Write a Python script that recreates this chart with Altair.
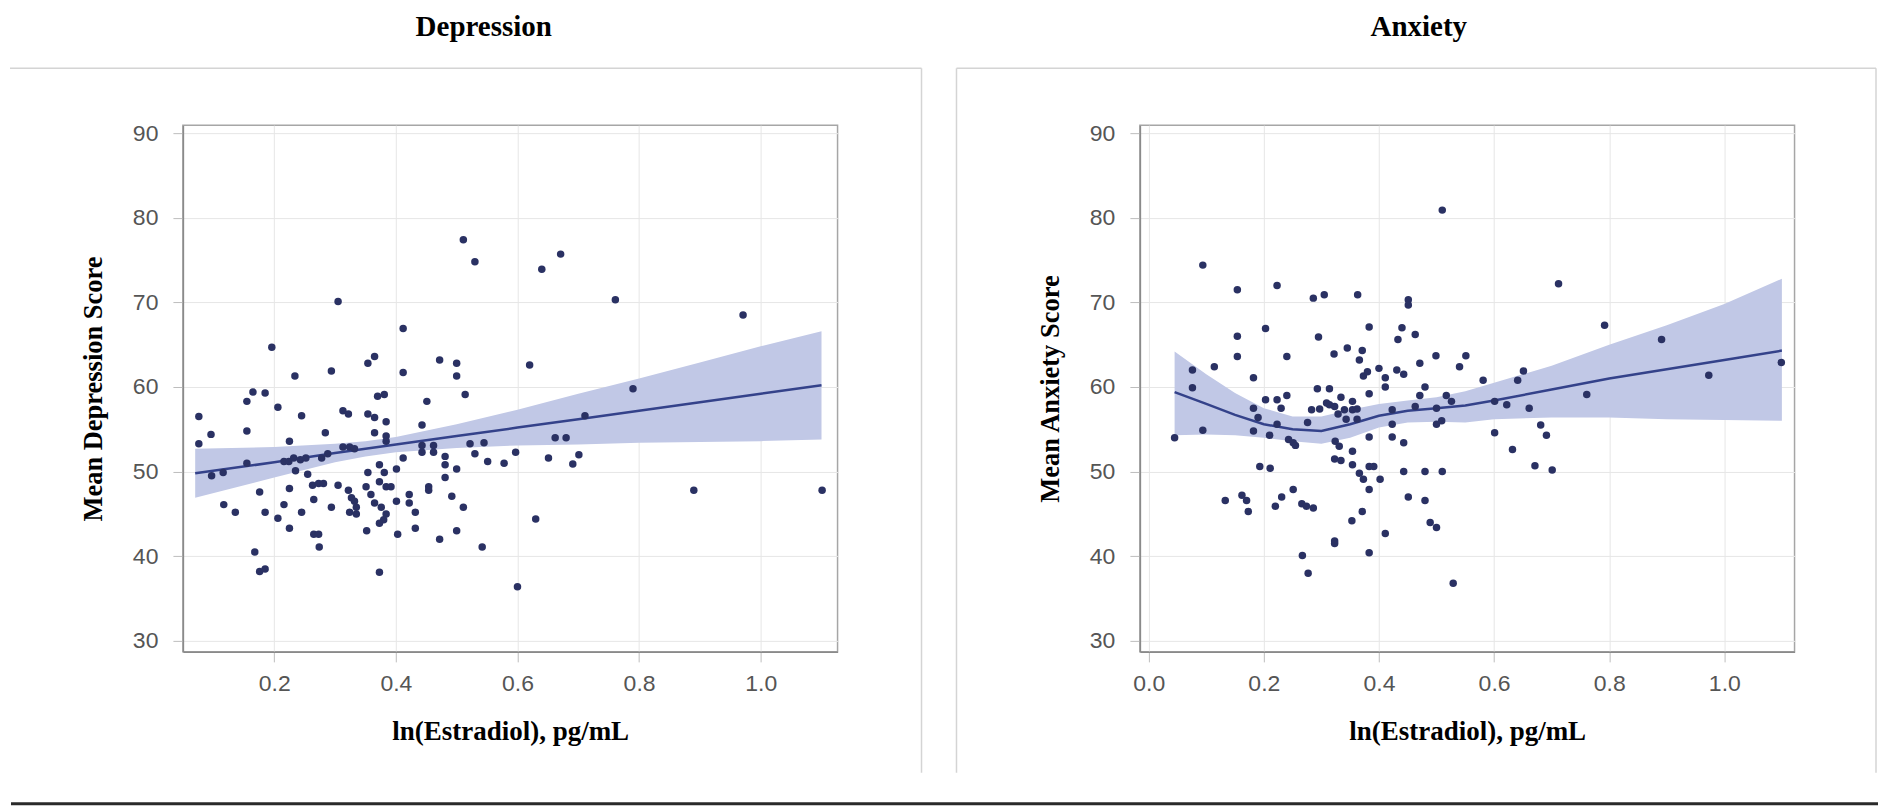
import altair as alt
import pandas as pd

# ---------------- Depression panel data ----------------
dep_x = [0.076, 0.076, 0.096, 0.097, 0.116, 0.117, 0.136, 0.155, 0.155, 0.155,
         0.165, 0.185, 0.176, 0.185, 0.168, 0.176, 0.185, 0.196, 0.206, 0.206,
         0.225, 0.225, 0.225, 0.234, 0.245, 0.216, 0.224, 0.232, 0.235, 0.243,
         0.252, 0.216, 0.245, 0.255, 0.263, 0.265, 0.265, 0.273, 0.274, 0.273,
         0.281, 0.284, 0.278, 0.288, 0.294, 0.294, 0.305, 0.305, 0.313, 0.322,
         0.313, 0.324, 0.332, 0.322, 0.327, 0.332, 0.324, 0.335, 0.335, 0.354,
         0.365, 0.354, 0.365, 0.365, 0.354, 0.351, 0.359, 0.365, 0.352, 0.373,
         0.370, 0.381, 0.384, 0.384, 0.384, 0.373, 0.381, 0.373, 0.384, 0.376,
         0.384, 0.380, 0.373, 0.392, 0.401, 0.401, 0.403, 0.412, 0.412, 0.412,
         0.422, 0.422, 0.432, 0.432, 0.443, 0.443, 0.443, 0.451, 0.454, 0.454,
         0.462, 0.462, 0.472, 0.472, 0.481, 0.481, 0.481, 0.492, 0.500, 0.500,
         0.500, 0.500, 0.511, 0.511, 0.514, 0.530, 0.522, 0.530, 0.545, 0.542,
         0.551, 0.578, 0.597, 0.600, 0.671, 0.640, 0.761, 0.971, 0.620, 0.790,
         0.711, 0.662, 0.680, 0.651, 0.701, 0.691, 0.890, 1.101, 0.630]
dep_y = [56.5, 53.3, 54.4, 49.5, 49.9, 46.1, 45.2, 58.3, 54.8, 51.0,
         59.4, 59.3, 47.6, 45.2, 40.5, 38.2, 38.5, 64.7, 57.6, 44.5,
         53.6, 48.0, 43.3, 61.3, 56.6, 51.2, 51.2, 51.6, 50.1, 51.4,
         51.6, 46.1, 45.2, 49.7, 48.4, 46.7, 42.6, 42.6, 41.1, 48.6,
         48.6, 54.6, 51.6, 52.1, 61.9, 45.8, 70.1, 48.4, 57.2, 56.8,
         52.9, 52.9, 52.7, 47.8, 46.9, 46.5, 45.2, 45.0, 45.8, 62.8,
         63.6, 56.8, 56.4, 54.6, 49.9, 48.2, 47.3, 46.3, 43.0, 38.1,
         58.9, 59.1, 55.9, 54.2, 53.6, 50.8, 49.9, 48.8, 48.2, 45.8,
         45.0, 44.3, 43.9, 48.2, 50.3, 46.5, 42.6, 66.9, 61.7, 51.6,
         47.3, 46.3, 45.2, 43.3, 55.5, 53.1, 52.3, 58.3, 48.2, 47.8,
         53.1, 52.3, 63.2, 42.0, 51.8, 50.8, 49.3, 47.1, 62.8, 61.3,
         50.3, 43.0, 45.8, 77.4, 59.1, 74.8, 53.3, 52.1, 53.4, 41.1,
         51.2, 51.0, 52.3, 36.4, 75.7, 73.9, 70.3, 68.5, 62.6, 59.8,
         56.6, 54.0, 54.0, 51.6, 52.0, 50.9, 47.8, 47.8, 44.4]

dep_fit_x = [0.07, 0.2, 0.3, 0.35, 0.4, 0.5, 0.6, 0.7, 0.8, 0.9, 1.0, 1.1]
dep_fit_y = [49.8, 51.1, 52.2, 52.7, 53.2, 54.2, 55.2, 56.2, 57.2, 58.2, 59.2, 60.2]
dep_lo = [46.9, 49.3, 51.1, 51.8, 52.3, 52.8, 53.1, 53.2, 53.4, 53.5, 53.6, 53.8]
dep_hi = [52.7, 52.9, 53.3, 53.6, 54.1, 55.6, 57.3, 59.2, 61.0, 62.9, 64.8, 66.6]

# ---------------- Anxiety panel data ----------------
anx_x = [0.045, 0.076, 0.076, 0.094, 0.094, 0.114, 0.133, 0.154, 0.154, 0.154,
         0.162, 0.170, 0.173, 0.182, 0.182, 0.182, 0.190, 0.193, 0.203, 0.203,
         0.211, 0.210, 0.223, 0.223, 0.230, 0.223, 0.220, 0.231, 0.240, 0.240,
         0.243, 0.251, 0.255, 0.251, 0.266, 0.274, 0.286, 0.267, 0.277, 0.276,
         0.286, 0.295, 0.305, 0.293, 0.283, 0.297, 0.314, 0.309, 0.322, 0.314,
         0.323, 0.329, 0.334, 0.340, 0.345, 0.343, 0.354, 0.354, 0.324, 0.331,
         0.323, 0.334, 0.323, 0.323, 0.354, 0.354, 0.366, 0.373, 0.353, 0.363,
         0.362, 0.362, 0.366, 0.371, 0.371, 0.383, 0.373, 0.380, 0.383, 0.383,
         0.383, 0.391, 0.383, 0.383, 0.400, 0.402, 0.411, 0.411, 0.411, 0.423,
         0.423, 0.423, 0.431, 0.443, 0.443, 0.443, 0.440, 0.433, 0.451, 0.451,
         0.451, 0.463, 0.463, 0.471, 0.480, 0.471, 0.480, 0.480, 0.489, 0.500,
         0.499, 0.500, 0.500, 0.509, 0.510, 0.510, 0.517, 0.526, 0.529, 0.540,
         0.551, 0.581, 0.601, 0.622, 0.641, 0.651, 0.661, 0.601, 0.632, 0.681,
         0.691, 0.671, 0.701, 0.712, 0.792, 0.761, 0.891, 0.973, 1.099]
anx_y = [54.0, 62.0, 59.9, 74.4, 54.9, 62.4, 46.6, 71.5, 66.0, 63.6,
         47.2, 46.6, 45.3, 61.1, 57.5, 54.8, 56.4, 50.6, 66.9, 58.5,
         50.4, 54.3, 72.0, 58.5, 57.5, 55.6, 45.9, 47.0, 63.6, 59.0,
         53.8, 53.4, 53.1, 47.9, 46.2, 45.9, 45.7, 40.1, 38.0, 55.8,
         70.5, 65.9, 70.9, 59.8, 57.3, 57.4, 59.8, 58.1, 63.9, 57.9,
         57.7, 56.8, 58.8, 57.3, 64.6, 56.2, 58.3, 57.3, 53.6, 53.0,
         51.5, 51.3, 41.8, 41.5, 52.4, 50.8, 49.8, 49.1, 44.2, 70.9,
         57.4, 56.2, 63.2, 64.3, 45.3, 67.1, 61.3, 61.8, 59.2, 54.1,
         50.6, 50.6, 47.9, 40.4, 62.2, 49.1, 61.1, 60.0, 42.7, 57.3,
         55.6, 54.1, 62.0, 61.5, 53.4, 50.0, 67.0, 65.6, 70.3, 69.7,
         47.0, 66.2, 57.7, 62.8, 60.0, 59.0, 50.0, 46.6, 44.0, 43.4,
         63.7, 57.5, 55.6, 56.0, 50.0, 80.9, 59.0, 58.3, 36.8, 62.4,
         63.7, 60.8, 58.3, 57.9, 60.8, 61.9, 57.5, 54.6, 52.6, 55.5,
         54.3, 50.7, 50.2, 72.2, 67.3, 59.1, 65.6, 61.4, 62.9]

anx_fit_x = [0.045, 0.1, 0.15, 0.2, 0.25, 0.3, 0.35, 0.4, 0.45, 0.5, 0.55, 0.6,
             0.7, 0.8, 0.9, 1.0, 1.1]
anx_fit_y = [59.4, 58.0, 56.7, 55.6, 55.0, 54.8, 55.6, 56.6, 57.2, 57.5, 57.8, 58.4,
             59.7, 61.0, 62.1, 63.2, 64.3]
anx_lo = [54.3, 54.4, 54.3, 54.0, 53.6, 53.3, 54.0, 55.2, 55.8, 55.9, 55.8, 56.2,
          56.4, 56.4, 56.2, 56.1, 56.0]
anx_hi = [64.2, 61.5, 59.3, 57.5, 56.5, 56.5, 57.3, 58.0, 58.4, 58.8, 59.5, 60.5,
          62.5, 65.0, 67.3, 69.8, 72.8]

y_ticks = [30, 40, 50, 60, 70, 80, 90]
dep_x_ticks = [0.2, 0.4, 0.6, 0.8, 1.0]
anx_x_ticks = [0.0, 0.2, 0.4, 0.6, 0.8, 1.0]

POINT = "#2a3163"
LINE = "#34428a"
BAND = "#c1c8e6"
W, H = 655, 527
deco = pd.DataFrame({"d": [0]})


def rule(x, x2, y, y2, color, w, cap="butt"):
    return alt.Chart(deco).mark_rule(color=color, strokeWidth=w, strokeCap=cap).encode(
        x=alt.value(x), x2=alt.value(x2), y=alt.value(y), y2=alt.value(y2))


def panel(px, py, fx, fy, lo, hi, xdom, xticks, ytitle, title, title_x,
          extra_lines):
    xs = alt.Scale(domain=xdom, nice=False, zero=False)
    ys = alt.Scale(domain=[28.7, 90.94], nice=False, zero=False)
    xaxis = alt.Axis(values=xticks, format=".1f", title="ln(Estradiol), pg/mL",
                     titleY=88, titleBaseline="alphabetic", titleFontSize=27,
                     labelPadding=11, tickSize=10, labelFlush=False)
    yaxis = alt.Axis(values=y_ticks, title=ytitle, titleX=-89, titleY=H / 2,
                     titleAngle=270, titleAlign="center", titleBaseline="middle",
                     titleFontSize=26.5,
                     labelPadding=15, tickSize=10, labelFlush=False)
    pts = pd.DataFrame({"x": px, "y": py})
    fit = pd.DataFrame({"x": fx, "y": fy, "lo": lo, "hi": hi})
    band = alt.Chart(fit).mark_area(color=BAND, opacity=1).encode(
        x=alt.X("x:Q", scale=xs, axis=xaxis),
        y=alt.Y("lo:Q", scale=ys, axis=yaxis), y2="hi:Q")
    line = alt.Chart(fit).mark_line(color=LINE, strokeWidth=2.5).encode(
        x=alt.X("x:Q", scale=xs), y=alt.Y("y:Q", scale=ys))
    dots = alt.Chart(pts).mark_circle(size=56, color=POINT, opacity=1).encode(
        x=alt.X("x:Q", scale=xs), y=alt.Y("y:Q", scale=ys))
    ttl = alt.Chart(deco).mark_text(font="Liberation Serif", fontSize=29,
                                    fontWeight="bold", color="black",
                                    baseline="alphabetic", align="center").encode(
        x=alt.value(title_x), y=alt.value(-89), text=alt.value(title))
    layers = [band, line, dots, ttl, rule(0, 1, -115, -115, "white", 1)]
    layers += extra_lines
    return alt.layer(*layers).properties(width=W, height=H)


left = panel(dep_x, dep_y, dep_fit_x, dep_fit_y, dep_lo, dep_hi,
             [0.0498, 1.1264], dep_x_ticks, "Mean Depression Score", "Depression", 301,
             [rule(-173, 739, -57, -57, "#d4d4d4", 1.5),
              rule(739, 739, -57, 648, "#d4d4d4", 1.5),
              rule(-172, 1696, 679, 679, "#2a2a2a", 3)])

right = panel(anx_x, anx_y, anx_fit_x, anx_fit_y, anx_lo, anx_hi,
              [-0.0153, 1.122], anx_x_ticks, "Mean Anxiety Score", "Anxiety", 279,
              [rule(-183.5, 736.5, -57, -57, "#d4d4d4", 1.5),
               rule(-183.5, -183.5, -57, 648, "#d4d4d4", 1.5),
               rule(736.5, 736.5, -57, 648, "#d4d4d4", 1.5)])

chart = alt.hconcat(left, right, spacing=302.5, bounds="flush").properties(
    padding=0
).configure_view(
    stroke="#a6a6a6", strokeWidth=1.5
).configure_axis(
    labelFont="Liberation Sans", labelFontSize=23, labelColor="#555555",
    titleFont="Liberation Serif", titleFontWeight="bold",
    titleColor="#000000", domainColor="#8a8a8a", domainWidth=1.5,
    tickColor="#bdbdbd", gridColor="#e6e6e6", gridWidth=1
)

chart.save("out.html", embed_options={"renderer": "svg", "actions": False})
